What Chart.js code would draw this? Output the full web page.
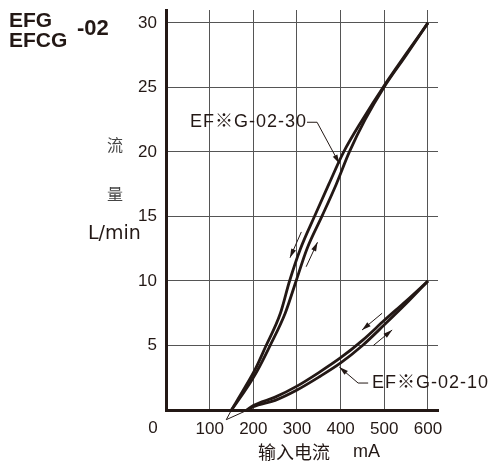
<!DOCTYPE html>
<html>
<head>
<meta charset="utf-8">
<script src="https://cdn.jsdelivr.net/npm/chart.js"></script>
<style>
  body { margin: 0; background: #fff; }
</style>
</head>
<body>
<canvas id="flowChart" width="492" height="465"></canvas>
<script>
// axis ticks
const xTicks = [0, 100, 200, 300, 400, 500, 600];
const yTicks = [0, 5, 10, 15, 20, 25, 30];

// EF※G-02-30 : decreasing branch (upper/left) and increasing branch (lower/right)
const c30DownX = [150, 180, 205, 228, 262, 283, 308, 340, 373, 407, 450, 497, 550, 600];
const c30DownY = [0, 1.7, 3.2, 4.9, 7.5, 10, 12.5, 15, 17.5, 20, 22.5, 25, 27.6, 30];
const c30UpX = [150, 183, 210, 237, 273, 298, 323, 357, 390, 420, 456, 499, 550, 600];
const c30UpY = [0, 1.6, 3.1, 4.9, 7.5, 10, 12.5, 15, 17.5, 20, 22.5, 25, 27.5, 30];

// EF※G-02-10
const c10DownX = [185, 200, 250, 300, 350, 400, 450, 500, 550, 600];
const c10DownY = [0, 0.35, 1.0, 1.85, 2.9, 4.05, 5.4, 6.95, 8.45, 10];
const c10UpX = [188, 200, 250, 300, 350, 400, 450, 500, 550, 600];
const c10UpY = [0, 0.25, 0.75, 1.55, 2.55, 3.65, 5.0, 6.6, 8.25, 10];

// thin extension lines below the axis
const ext30X = [150, 138];
const ext30Y = [0, -0.75];
const ext10X = [187, 138];
const ext10Y = [0, -0.75];

// small direction arrows [tailX, tailY, headX, headY]
const dirArrows = [
  [310, 13.8, 284, 11.8],
  [321, 11.1, 347, 13.0],
  [495, 7.5, 449, 6.2],
  [475, 5.0, 518, 6.2]
];

// curve labels and leader lines
const label30 = 'EF※G-02-30';
const label30Pos = [55, 22.3];
const leader30X = [323, 346, 397];
const leader30Y = [22.3, 22.3, 19.1];
const label10 = 'EF※G-02-10';
const label10Pos = [472, 2.09];
const leader10X = [463, 440, 397];
const leader10Y = [2.09, 2.09, 3.33];

const ink = '#231815';

function toPoints(xs, ys) {
  const pts = [];
  for (let i = 0; i < xs.length; i++) {
    pts.push({ x: xs[i], y: ys[i] });
  }
  return pts;
}

function curve(xs, ys) {
  return {
    data: toPoints(xs, ys),
    showLine: true,
    borderColor: ink,
    borderWidth: 2.8,
    pointRadius: 0,
    cubicInterpolationMode: 'monotone',
    clip: false
  };
}

function thin(xs, ys) {
  return {
    data: toPoints(xs, ys),
    showLine: true,
    borderColor: ink,
    borderWidth: 1,
    pointRadius: 0,
    tension: 0,
    clip: false
  };
}

function arrowHead(ctx, x1, y1, x2, y2, len, half) {
  const a = Math.atan2(y2 - y1, x2 - x1);
  ctx.beginPath();
  ctx.moveTo(x2, y2);
  ctx.lineTo(x2 - len * Math.cos(a) + half * Math.sin(a), y2 - len * Math.sin(a) - half * Math.cos(a));
  ctx.lineTo(x2 - len * Math.cos(a) - half * Math.sin(a), y2 - len * Math.sin(a) + half * Math.cos(a));
  ctx.closePath();
  ctx.fill();
}

const extras = {
  id: 'extras',
  afterDatasetsDraw(chart) {
    const ctx = chart.ctx;
    const sx = chart.scales.x;
    const sy = chart.scales.y;
    const px = v => sx.getPixelForValue(v);
    const py = v => sy.getPixelForValue(v);
    ctx.save();
    ctx.fillStyle = ink;
    ctx.strokeStyle = ink;

    // direction arrows
    ctx.lineWidth = 1;
    for (let i = 0; i < dirArrows.length; i++) {
      const a = dirArrows[i];
      const x1 = px(a[0]), y1 = py(a[1]), x2 = px(a[2]), y2 = py(a[3]);
      ctx.beginPath();
      ctx.moveTo(x1, y1);
      ctx.lineTo(x2, y2);
      ctx.stroke();
      arrowHead(ctx, x1, y1, x2, y2, 9, 2.6);
    }

    // leaders
    const leaders = [[leader30X, leader30Y], [leader10X, leader10Y]];
    for (let j = 0; j < leaders.length; j++) {
      const lx = leaders[j][0], ly = leaders[j][1];
      ctx.beginPath();
      ctx.moveTo(px(lx[0]), py(ly[0]));
      for (let i = 1; i < lx.length; i++) ctx.lineTo(px(lx[i]), py(ly[i]));
      ctx.stroke();
      const n = lx.length;
      arrowHead(ctx, px(lx[n - 2]), py(ly[n - 2]), px(lx[n - 1]), py(ly[n - 1]), 9, 2.6);
    }

    // curve labels
    ctx.font = '18px "Liberation Sans", "Noto Sans CJK JP"';
    ctx.letterSpacing = '1px';
    ctx.textBaseline = 'middle';
    ctx.textAlign = 'left';
    ctx.fillText(label30, px(label30Pos[0]), py(label30Pos[1]));
    ctx.fillText(label10, px(label10Pos[0]), py(label10Pos[1]));
    ctx.letterSpacing = '0px';

    // shared origin label
    ctx.font = '17px "Liberation Sans"';
    ctx.textAlign = 'center';
    ctx.fillText('0', px(0) - 13, py(0) + 18);

    // x axis title
    ctx.textAlign = 'left';
    ctx.font = '18px "Noto Sans CJK SC"';
    ctx.fillText('输入电流', 258, 452);
    ctx.font = '18px "Liberation Sans"';
    ctx.fillText('mA', 353, 452);

    // y axis title
    ctx.textAlign = 'center';
    ctx.fillStyle = '#444';
    ctx.font = '16px "Noto Sans CJK SC"';
    ctx.fillText('流', 115, 145);
    ctx.fillText('量', 115, 194);
    ctx.fillStyle = ink;
    ctx.font = '19px "DejaVu Sans"';
    ctx.textAlign = 'left';
    ctx.fillText('L/min', 88, 234);

    // model title
    ctx.textBaseline = 'alphabetic';
    ctx.font = 'bold 21px "Liberation Sans"';
    ctx.fillText('EFG', 9, 27);
    ctx.fillText('EFCG', 9, 47);
    ctx.font = 'bold 22px "Liberation Sans"';
    ctx.fillText('-02', 77, 35);
    ctx.restore();
  }
};

new Chart(document.getElementById('flowChart'), {
  type: 'scatter',
  data: {
    datasets: [
      curve(c30DownX, c30DownY),
      curve(c30UpX, c30UpY),
      curve(c10DownX, c10DownY),
      curve(c10UpX, c10UpY),
      thin(ext30X, ext30Y),
      thin(ext10X, ext10Y)
    ]
  },
  options: {
    responsive: false,
    animation: false,
    layout: { padding: { left: 0, right: 54, top: 0, bottom: 0 } },
    plugins: {
      legend: { display: false },
      tooltip: { enabled: false }
    },
    scales: {
      x: {
        type: 'linear',
        min: 0,
        max: 623,
        afterBuildTicks: s => { s.ticks = xTicks.map(v => ({ value: v })); },
        afterFit: s => { s.height = 55; },
        ticks: {
          callback: v => (v === 0 ? '' : v),
          color: ink,
          font: { family: '"Liberation Sans"', size: 17 },
          padding: 9,
          maxRotation: 0
        },
        grid: { color: '#555', lineWidth: 1, drawTicks: false },
        border: { color: ink, width: 3 }
      },
      y: {
        type: 'linear',
        min: 0,
        max: 31,
        afterBuildTicks: s => { s.ticks = yTicks.map(v => ({ value: v })); },
        afterFit: s => { s.width = 166; s.paddingTop = 10; s.paddingBottom = 0; },
        ticks: {
          callback: v => (v === 0 ? '' : v),
          color: ink,
          font: { family: '"Liberation Sans"', size: 17 },
          padding: 9
        },
        grid: { color: '#555', lineWidth: 1, drawTicks: false },
        border: { color: ink, width: 3 }
      }
    }
  },
  plugins: [extras]
});
</script>
</body>
</html>
